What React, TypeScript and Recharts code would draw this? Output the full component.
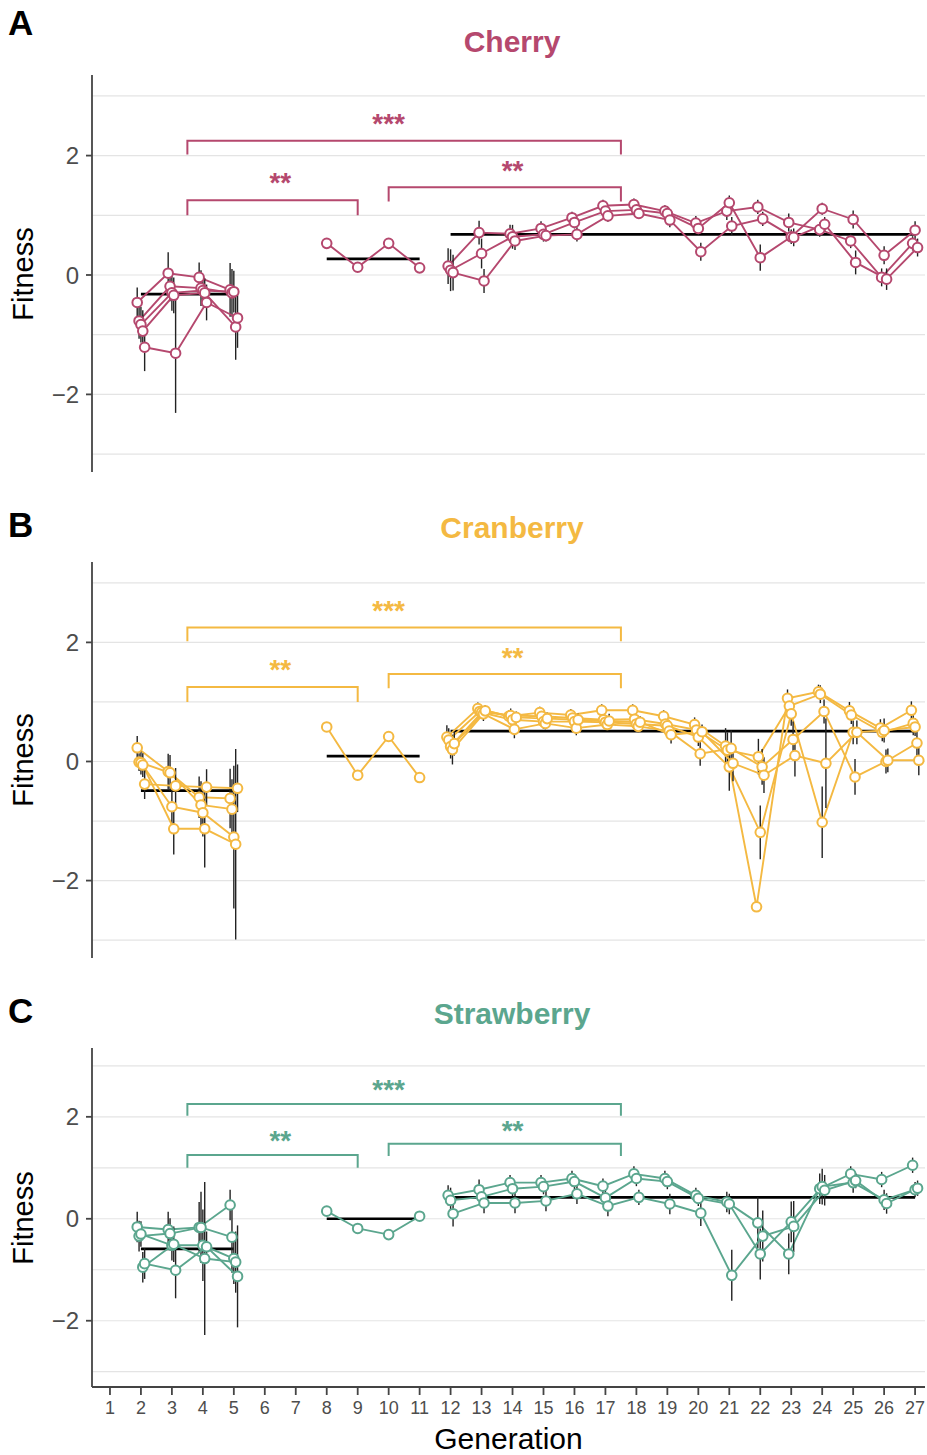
import React from 'react';
import { ComposedChart, Line, XAxis, YAxis, CartesianGrid, ErrorBar, ReferenceDot } from 'recharts';

// ---- axes / categories ----
const generations = [1, 2, 3, 4, 5, 6, 7, 8, 9, 10, 11, 12, 13, 14, 15, 16, 17, 18, 19, 20, 21, 22, 23, 24, 25, 26, 27];
const earlyGens = [2, 3, 4, 5];
const midGens = [8, 9, 10, 11];
const lateGens = [12, 13, 14, 15, 16, 17, 18, 19, 20, 21, 22, 23, 24, 25, 26, 27];
const yTicks = [-2, 0, 2];
const gridValues = [-3, -2, -1, 0, 1, 2, 3];

// ---- significance brackets (same in every panel) ----
const bracketFrom = [3.5, 3.5, 10];
const bracketTo = [17.5, 9, 17.5];
const bracketTop = [2.25, 1.25, 1.47];
const bracketLeg = [2.02, 1.0, 1.23];
const bracketLabel = ['***', '**', '**'];
const bracketLabelX = [10, 6.5, 14];
const bracketLabelY = [2.55, 1.55, 1.75];

// ---- Cherry ----
const cherryEarly = [
  [-0.46, 0.03, -0.04, -0.25],
  [-0.77, -0.19, -0.22, -0.3],
  [-0.83, -0.3, -0.26, -0.28],
  [-0.94, -0.34, -0.3, -0.87],
  [-1.21, -1.31, -0.46, -0.72],
];
const cherryEarlyErr = [
  [0.25, 0.35, 0.25, 0.45],
  [0.3, 0.25, 0.3, 0.4],
  [0.3, 0.3, 0.2, 0.35],
  [0.35, 0.3, 0.25, 0.55],
  [0.4, 1.0, 0.3, 0.5],
];
const cherryMid = [0.53, 0.13, 0.53, 0.12];
const cherryLate = [
  [0.15, 0.71, 0.69, 0.78, 0.96, 1.16, 1.18, 1.07, 0.87, 1.07, 1.14, 0.88, 0.76, 0.57, -0.04, 0.53],
  [0.08, 0.36, 0.64, 0.68, 0.88, 1.07, 1.09, 1.03, 0.78, 1.21, 0.29, 0.64, 1.11, 0.93, 0.33, 0.75],
  [0.04, -0.1, 0.57, 0.66, 0.68, 0.99, 1.03, 0.92, 0.39, 0.82, 0.94, 0.63, 0.85, 0.21, -0.07, 0.46],
];
const cherryLateErr = [
  [0.3, 0.2, 0.15, 0.12, 0.1, 0.1, 0.1, 0.1, 0.12, 0.15, 0.12, 0.15, 0.12, 0.12, 0.15, 0.12],
  [0.35, 0.25, 0.2, 0.12, 0.1, 0.12, 0.1, 0.12, 0.1, 0.12, 0.22, 0.12, 0.1, 0.15, 0.15, 0.15],
  [0.3, 0.2, 0.15, 0.1, 0.12, 0.1, 0.08, 0.12, 0.15, 0.15, 0.12, 0.15, 0.12, 0.2, 0.18, 0.15],
];
const cherryMeans = [-0.32, 0.27, 0.68];

// ---- Cranberry ----
const cranberryEarly = [
  [0.23, -0.17, -0.6, -0.62],
  [-0.01, -0.19, -0.73, -0.8],
  [-0.02, -0.76, -0.86, -1.27],
  [-0.06, -1.13, -1.13, -1.39],
  [-0.38, -0.41, -0.43, -0.45],
];
const cranberryEarlyErr = [
  [0.2, 0.3, 0.35, 0.5],
  [0.15, 0.3, 0.4, 0.5],
  [0.2, 0.35, 0.4, 1.2],
  [0.2, 0.43, 0.65, 1.6],
  [0.25, 0.3, 0.3, 0.4],
];
const cranberryMid = [0.58, -0.23, 0.42, -0.27];
const cranberryLate = [
  [0.41, 0.89, 0.76, 0.82, 0.78, 0.86, 0.86, 0.76, 0.62, 0.26, -2.44, 1.06, 1.17, 0.85, 0.56, 0.86],
  [0.36, 0.84, 0.77, 0.76, 0.73, 0.7, 0.71, 0.63, 0.53, 0.19, 0.08, 0.93, 1.13, 0.78, 0.49, 0.64],
  [0.25, 0.82, 0.7, 0.67, 0.67, 0.66, 0.63, 0.6, 0.41, -0.09, -1.19, 0.8, -1.02, 0.49, 0.52, 0.58],
  [0.2, 0.8, 0.54, 0.64, 0.56, 0.62, 0.59, 0.51, 0.13, 0.22, -0.09, 0.37, 0.84, -0.26, 0.0, 0.31],
  [0.3, 0.85, 0.74, 0.72, 0.7, 0.68, 0.66, 0.45, 0.5, -0.03, -0.23, 0.1, -0.03, 0.49, 0.02, 0.02],
];
const cranberryLateErr = [
  [0.2, 0.1, 0.1, 0.1, 0.1, 0.1, 0.1, 0.1, 0.12, 0.3, 0.0, 0.15, 0.12, 0.15, 0.15, 0.15],
  [0.2, 0.1, 0.12, 0.1, 0.1, 0.1, 0.1, 0.1, 0.15, 0.3, 0.3, 0.15, 0.15, 0.15, 0.15, 0.2],
  [0.2, 0.1, 0.1, 0.12, 0.1, 0.1, 0.12, 0.15, 0.15, 0.4, 0.45, 0.2, 0.6, 0.2, 0.2, 0.15],
  [0.25, 0.12, 0.15, 0.1, 0.12, 0.1, 0.1, 0.12, 0.2, 0.3, 0.3, 0.3, 0.2, 0.3, 0.2, 0.25],
  [0.2, 0.1, 0.1, 0.1, 0.1, 0.12, 0.1, 0.15, 0.12, 0.3, 0.3, 0.35, 0.75, 0.2, 0.2, 0.25],
];
const cranberryMeans = [-0.49, 0.09, 0.51];

// ---- Strawberry ----
const strawberryEarly = [
  [-0.16, -0.21, -0.17, 0.27],
  [-0.34, -0.29, -0.17, -0.36],
  [-0.3, -0.52, -0.52, -0.78],
  [-0.95, -0.5, -0.78, -0.85],
  [-0.88, -1.01, -0.55, -1.13],
];
const strawberryEarlyErr = [
  [0.3, 0.35, 0.5, 0.3],
  [0.3, 0.3, 0.7, 0.7],
  [0.25, 0.3, 0.7, 0.5],
  [0.3, 0.35, 1.5, 0.6],
  [0.3, 0.55, 0.3, 1.0],
];
const strawberryMid = [0.15, -0.19, -0.31, 0.05];
const strawberryLate = [
  [0.46, 0.57, 0.71, 0.71, 0.79, 0.64, 0.88, 0.79, 0.46, 0.33, -0.08, -0.69, 0.59, 0.88, 0.77, 1.05],
  [0.36, 0.43, 0.59, 0.63, 0.73, 0.41, 0.79, 0.73, 0.4, 0.29, -0.69, -0.06, 0.63, 0.71, 0.37, 0.57],
  [0.1, 0.31, 0.31, 0.35, 0.49, 0.25, 0.42, 0.29, 0.11, -1.11, -0.34, -0.15, 0.56, 0.75, 0.3, 0.6],
];
const strawberryLateErr = [
  [0.2, 0.2, 0.15, 0.15, 0.15, 0.15, 0.15, 0.15, 0.15, 0.2, 0.5, 0.4, 0.3, 0.15, 0.15, 0.15],
  [0.25, 0.2, 0.15, 0.15, 0.15, 0.2, 0.15, 0.15, 0.15, 0.2, 0.5, 0.4, 0.35, 0.2, 0.2, 0.15],
  [0.25, 0.2, 0.2, 0.2, 0.2, 0.2, 0.15, 0.2, 0.25, 0.5, 0.5, 0.5, 0.3, 0.15, 0.2, 0.15],
];
const strawberryMeans = [-0.59, 0.0, 0.42];

const CHERRY = '#B5486E';
const CRANBERRY = '#F4B942';
const STRAWBERRY = '#5BA68E';
const AXIS = '#444';
const FONT = '"Liberation Sans", Arial, Helvetica, sans-serif';

const DODGE5 = [-0.12, -0.06, 0, 0.06, 0.12];
const DODGE3 = [-0.08, 0, 0.08];

function toPoints(gens: number[], vals: number[], errs: number[] | null, off: number) {
  return vals.map((y, i) => ({ x: gens[i] + off, y, e: errs ? errs[i] : 0 }));
}

const fmtY = (v: number) => (v < 0 ? `\u2212${Math.abs(v)}` : `${v}`);

interface PanelProps {
  color: string;
  early: number[][];
  earlyErr: number[][];
  mid: number[];
  late: number[][];
  lateErr: number[][];
  means: number[];
  height: number;
  top: number;
  bottom: number;
  showX?: boolean;
}

function Panel({ color, early, earlyErr, mid, late, lateErr, means, height, top, bottom, showX }: PanelProps) {
  const dot = { r: 4.8, fill: '#fff', stroke: color, strokeWidth: 2 };
  const blocks = [earlyGens, midGens, lateGens];
  const renderReps = (gens: number[], rows: number[][], errs: number[][], tag: string) => {
    const dodge = rows.length === 5 ? DODGE5 : DODGE3;
    return rows.map((row, r) => (
      <Line
        key={`${tag}-${r}`}
        data={toPoints(gens, row, errs[r], dodge[r])}
        dataKey="y"
        stroke={color}
        strokeWidth={1.9}
        dot={dot}
        activeDot={false}
        isAnimationActive={false}
      >
        <ErrorBar dataKey="e" width={0} stroke="#222" strokeWidth={1.4} direction="y" />
      </Line>
    ));
  };

  return (
    <ComposedChart width={927} height={height} margin={{ top, right: 2, bottom, left: 0 }}>
      <CartesianGrid vertical={false} horizontalValues={gridValues} stroke="#e4e4e4" strokeWidth={1.2} />
      <XAxis
        type="number"
        dataKey="x"
        domain={[0.42, 27.32]}
        ticks={generations}
        interval={0}
        allowDataOverflow
        hide={!showX}
        height={64}
        tickSize={8}
        tickMargin={6}
        axisLine={{ stroke: AXIS, strokeWidth: 1.8 }}
        tickLine={{ stroke: AXIS, strokeWidth: 1.8 }}
        tick={{ fill: '#4d4d4d', fontSize: 18 }}
        label={{ value: 'Generation', position: 'insideBottom', offset: 2, fill: '#000', fontSize: 30 }}
      />
      <YAxis
        type="number"
        domain={[-3.3, 3.35]}
        ticks={yTicks}
        allowDataOverflow
        width={92}
        tickSize={6}
        tickMargin={7}
        tickFormatter={fmtY}
        axisLine={{ stroke: AXIS, strokeWidth: 1.8 }}
        tickLine={{ stroke: AXIS, strokeWidth: 1.8 }}
        tick={{ fill: '#4d4d4d', fontSize: 24 }}
      />
      {bracketFrom.map((a, i) => (
        <Line
          key={`br-${i}`}
          data={[
            { x: a, y: bracketLeg[i] },
            { x: a, y: bracketTop[i] },
            { x: bracketTo[i], y: bracketTop[i] },
            { x: bracketTo[i], y: bracketLeg[i] },
          ]}
          dataKey="y"
          stroke={color}
          strokeWidth={2}
          dot={false}
          activeDot={false}
          isAnimationActive={false}
        />
      ))}
      {means.map((m, i) => (
        <Line
          key={`mean-${i}`}
          data={[
            { x: blocks[i][0], y: m },
            { x: blocks[i][blocks[i].length - 1], y: m },
          ]}
          dataKey="y"
          stroke="#000"
          strokeWidth={2.6}
          dot={false}
          activeDot={false}
          isAnimationActive={false}
        />
      ))}
      <Line
        data={toPoints(midGens, mid, null, 0)}
        dataKey="y"
        stroke={color}
        strokeWidth={1.9}
        dot={dot}
        activeDot={false}
        isAnimationActive={false}
      />
      {renderReps(earlyGens, early, earlyErr, 'early')}
      {renderReps(lateGens, late, lateErr, 'late')}
      {bracketLabel.map((t, i) => (
        <ReferenceDot
          key={`lab-${i}`}
          x={bracketLabelX[i]}
          y={bracketLabelY[i]}
          r={0}
          fill="none"
          stroke="none"
          label={{ value: t, fill: color, fontSize: 28, fontWeight: 'bold' }}
        />
      ))}
    </ComposedChart>
  );
}

const titles = ['Cherry', 'Cranberry', 'Strawberry'];
const titleColors = [CHERRY, CRANBERRY, STRAWBERRY];
const panelLetters = ['A', 'B', 'C'];

export default function App() {
  return (
    <div style={{ position: 'absolute', left: 0, top: 0, width: 927, height: 1455, background: '#fff', fontFamily: FONT }}>
      <div style={{ position: 'absolute', left: 0, top: 0 }}>
        <Panel color={CHERRY} early={cherryEarly} earlyErr={cherryEarlyErr} mid={cherryMid}
          late={cherryLate} lateErr={cherryLateErr} means={cherryMeans} height={480} top={75} bottom={8} />
      </div>
      <div style={{ position: 'absolute', left: 0, top: 480 }}>
        <Panel color={CRANBERRY} early={cranberryEarly} earlyErr={cranberryEarlyErr} mid={cranberryMid}
          late={cranberryLate} lateErr={cranberryLateErr} means={cranberryMeans} height={486} top={82} bottom={8} />
      </div>
      <div style={{ position: 'absolute', left: 0, top: 966 }}>
        <Panel color={STRAWBERRY} early={strawberryEarly} earlyErr={strawberryEarlyErr} mid={strawberryMid}
          late={strawberryLate} lateErr={strawberryLateErr} means={strawberryMeans} height={489} top={82} bottom={4} showX />
      </div>
      <svg width={927} height={1455} style={{ position: 'absolute', left: 0, top: 0, pointerEvents: 'none' }}>
        {panelLetters.map((l, i) => (
          <text key={l} x={8} y={[35, 537, 1023][i]} fontSize={35} fontWeight="bold" fill="#000" fontFamily={FONT}>
            {l}
          </text>
        ))}
        {titles.map((t, i) => (
          <text key={t} x={512} y={[52, 538, 1024][i]} fontSize={30} fontWeight="bold" fill={titleColors[i]}
            textAnchor="middle" fontFamily={FONT}>
            {t}
          </text>
        ))}
        {[274, 760, 1218].map((cy) => (
          <text key={cy} x={33} y={cy} fontSize={29} fill="#000" textAnchor="middle" fontFamily={FONT}
            transform={`rotate(-90 33 ${cy})`}>
            Fitness
          </text>
        ))}
      </svg>
    </div>
  );
}
